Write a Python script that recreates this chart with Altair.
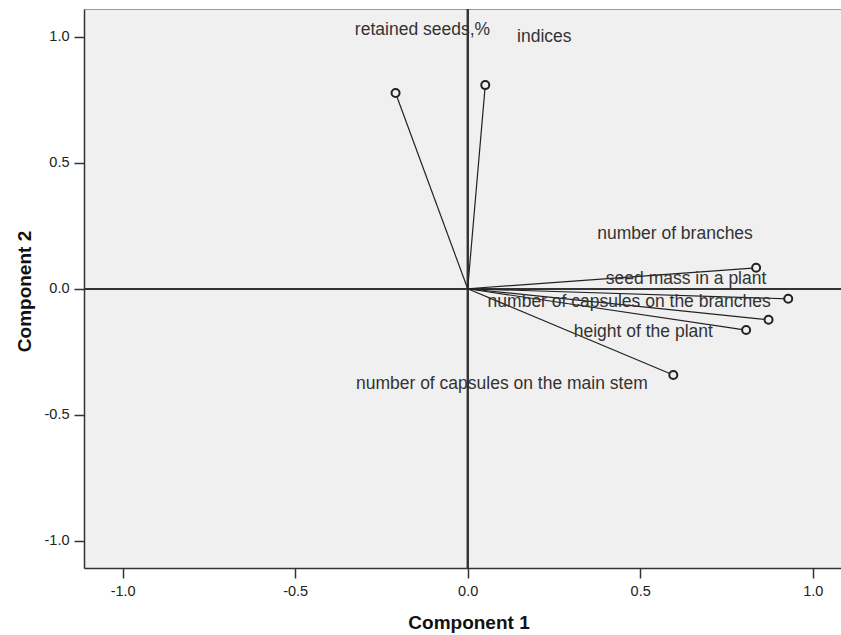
import altair as alt
import pandas as pd

# Component loadings
variables = [
    "retained seeds,%",
    "indices",
    "number of branches",
    "seed mass in a plant",
    "number of capsules on the branches",
    "height of the plant",
    "number of capsules on the main stem",
]
comp1 = [-0.209, 0.051, 0.836, 0.929, 0.872, 0.807, 0.596]
comp2 = [0.777, 0.808, 0.083, -0.040, -0.123, -0.164, -0.342]

# Where each variable's name is written (data units, as in the reference)
label_x = [-0.131, 0.222, 0.601, 0.633, 0.468, 0.509, 0.099]
label_y = [1.007, 0.981, 0.197, 0.017, -0.073, -0.190, -0.398]

x_ticks = [-1.0, -0.5, 0.0, 0.5, 1.0]
y_ticks = [-1.0, -0.5, 0.0, 0.5, 1.0]
x_domain = [-1.112, 1.082]
y_domain = [-1.108, 1.110]

df = pd.DataFrame({
    "variable": variables,
    "comp1": comp1,
    "comp2": comp2,
    "label_x": label_x,
    "label_y": label_y,
})
df["zero"] = 0.0

FONT = "Liberation Sans"
label_expr = "datum.value < 0 ? '-' + format(-datum.value, '.1f') : format(datum.value, '.1f')"

xs = alt.Scale(domain=x_domain, nice=False, zero=False)
ys = alt.Scale(domain=y_domain, nice=False, zero=False)

x_axis = alt.Axis(
    title="Component 1", values=x_ticks, labelExpr=label_expr, grid=False,
    tickSize=10, tickWidth=1.5, tickColor="#333", domainColor="#333", domainWidth=1.5,
    labelFont=FONT, labelFontSize=14.5, labelColor="#222", labelPadding=6, labelFlush=False,
    titleFont=FONT, titleFontSize=19, titleFontWeight="bold", titleColor="#111",
    titleX=384.5, titleY=60, titleAlign="center", titleBaseline="alphabetic",
)
y_axis = alt.Axis(
    title="Component 2", values=y_ticks, labelExpr=label_expr, grid=False,
    tickSize=10, tickWidth=1.5, tickColor="#333", domainColor="#333", domainWidth=1.5,
    labelFont=FONT, labelFontSize=14.5, labelColor="#222", labelPadding=5, labelFlush=False,
    titleFont=FONT, titleFontSize=19, titleFontWeight="bold", titleColor="#111",
    titleX=-60, titleY=282, titleAlign="center", titleBaseline="middle", titleAngle=-90,
)

base = alt.Chart(df)

vline = base.mark_rule(color="#333", strokeWidth=1.5).encode(
    x=alt.X("zero:Q", scale=xs, axis=x_axis)
)
hline = base.mark_rule(color="#333", strokeWidth=1.5).encode(
    y=alt.Y("zero:Q", scale=ys, axis=y_axis)
)
vectors = base.mark_rule(color="#222", strokeWidth=1.2).encode(
    x=alt.X("zero:Q", scale=xs, axis=x_axis),
    y=alt.Y("zero:Q", scale=ys, axis=y_axis),
    x2="comp1:Q",
    y2="comp2:Q",
)
points = base.mark_point(
    shape="circle", filled=True, fill="#F0F0F0", stroke="#222",
    strokeWidth=2, size=64, opacity=1, fillOpacity=1,
).encode(
    x=alt.X("comp1:Q", scale=xs, axis=x_axis),
    y=alt.Y("comp2:Q", scale=ys, axis=y_axis),
)
labels = base.mark_text(
    font=FONT, fontSize=17.5, color="#333", align="center", baseline="alphabetic",
).encode(
    x=alt.X("label_x:Q", scale=xs, axis=x_axis),
    y=alt.Y("label_y:Q", scale=ys, axis=y_axis),
    text="variable:N",
)

chart = (
    alt.layer(vline, hline, vectors, labels, points)
    .properties(
        width=757, height=559,
        autosize=alt.AutoSizeParams(type="none"),
        padding={"left": 84, "top": 9, "right": 0, "bottom": 67},
        background="white",
    )
    .configure_view(fill="#F0F0F0", stroke="#999", strokeWidth=1)
)

chart.save("out.html", embed_options={"renderer": "svg", "actions": False})
